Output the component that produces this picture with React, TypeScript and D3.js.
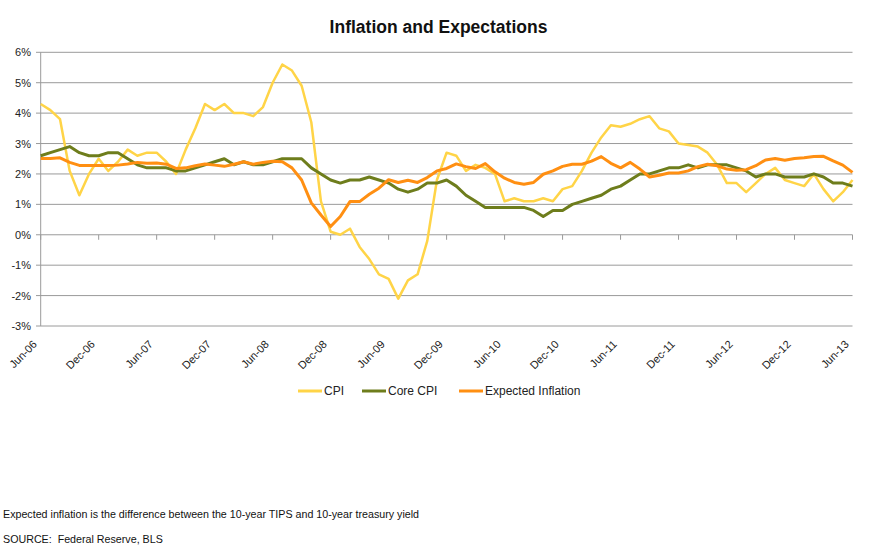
import React from "react";
import * as d3 from "d3";

const tickLabels = ["Jun-06","Dec-06","Jun-07","Dec-07","Jun-08","Dec-08","Jun-09","Dec-09","Jun-10","Dec-10","Jun-11","Dec-11","Jun-12","Dec-12","Jun-13"];

const cpi = [
  4.3, 4.1, 3.8, 2.1, 1.3, 2.0, 2.5,
  2.1, 2.4, 2.8, 2.6, 2.7, 2.7, 2.4, 2.0, 2.8, 3.5, 4.3, 4.1,
  4.3, 4.0, 4.0, 3.9, 4.2, 5.0, 5.6, 5.4, 4.9, 3.7, 1.1, 0.1,
  0.0, 0.2, -0.4, -0.8, -1.3, -1.45, -2.1, -1.5, -1.3, -0.2, 1.8, 2.7,
  2.6, 2.1, 2.3, 2.2, 2.0, 1.1, 1.2, 1.1, 1.1, 1.2, 1.1, 1.5,
  1.6, 2.1, 2.7, 3.2, 3.6, 3.55, 3.65, 3.8, 3.9, 3.5, 3.4, 3.0,
  2.95, 2.9, 2.7, 2.3, 1.7, 1.7, 1.4, 1.7, 2.0, 2.2, 1.8, 1.7,
  1.6, 2.0, 1.5, 1.1, 1.4, 1.8,
];

const coreCpi = [
  2.6, 2.7, 2.8, 2.9, 2.7, 2.6, 2.6,
  2.7, 2.7, 2.5, 2.3, 2.2, 2.2, 2.2, 2.1, 2.1, 2.2, 2.3, 2.4,
  2.5, 2.3, 2.4, 2.3, 2.3, 2.4, 2.5, 2.5, 2.5, 2.2, 2.0, 1.8,
  1.7, 1.8, 1.8, 1.9, 1.8, 1.7, 1.5, 1.4, 1.5, 1.7, 1.7, 1.8,
  1.6, 1.3, 1.1, 0.9, 0.9, 0.9, 0.9, 0.9, 0.8, 0.6, 0.8, 0.8,
  1.0, 1.1, 1.2, 1.3, 1.5, 1.6, 1.8, 2.0, 2.0, 2.1, 2.2, 2.2,
  2.3, 2.2, 2.3, 2.3, 2.3, 2.2, 2.1, 1.9, 2.0, 2.0, 1.9, 1.9,
  1.9, 2.0, 1.9, 1.7, 1.7, 1.6,
];

const expectedInflation = [
  2.51, 2.51, 2.53, 2.38, 2.28, 2.28, 2.28,
  2.28, 2.29, 2.33, 2.38, 2.35, 2.36, 2.32, 2.18, 2.2, 2.27, 2.33, 2.29,
  2.25, 2.32, 2.4, 2.32, 2.38, 2.42, 2.4, 2.2, 1.8, 1.05, 0.65, 0.27,
  0.6, 1.09, 1.09, 1.33, 1.53, 1.81, 1.72, 1.79, 1.72, 1.88, 2.1, 2.18,
  2.33, 2.24, 2.18, 2.34, 2.07, 1.86, 1.72, 1.66, 1.72, 1.99, 2.1, 2.25,
  2.32, 2.32, 2.42, 2.57, 2.35, 2.2, 2.38, 2.16, 1.9, 1.96, 2.03, 2.03,
  2.1, 2.24, 2.32, 2.27, 2.16, 2.12, 2.14, 2.27, 2.46, 2.51, 2.45, 2.51,
  2.53, 2.57, 2.58, 2.43, 2.29, 2.05,
];

const yTicks = [-3, -2, -1, 0, 1, 2, 3, 4, 5, 6];

const W = 887, H = 546;
const font = "'Liberation Sans', Arial, sans-serif";

export default function App() {
  const x = d3.scaleLinear().domain([0, cpi.length - 1]).range([40.7, 852.5]);
  const y = d3.scaleLinear().domain([-3, 6]).range([326, 52.3]);
  const line = d3.line<number>().x((_, i) => x(i)).y((d) => y(d));
  const series = [
    { name: "CPI", data: cpi, color: "#FFD447", w: 2.5 },
    { name: "Core CPI", data: coreCpi, color: "#6E7D1C", w: 3 },
    { name: "Expected Inflation", data: expectedInflation, color: "#FF8F12", w: 3 },
  ];
  const legendX = [298, 362, 459];
  return (
    <svg width={W} height={H} style={{ position: "absolute", left: 0, top: 0, background: "#fff" }} fontFamily={font}>
      <text x={438.5} y={33} textAnchor="middle" fontSize={17.5} fontWeight="bold" fill="#111">Inflation and Expectations</text>
      {yTicks.map((t) => (
        <g key={t}>
          <line x1={36} x2={852.5} y1={y(t)} y2={y(t)} stroke="#9a9a9a" strokeWidth={1} />
          <text x={31} y={y(t) + 4} textAnchor="end" fontSize={11} fill="#222">{t}%</text>
        </g>
      ))}
      <line x1={40.7} x2={40.7} y1={y(6)} y2={y(-3)} stroke="#9a9a9a" strokeWidth={1} />
      {tickLabels.map((lab, k) => {
        const xi = x(k * 6);
        return (
          <g key={lab}>
            <line x1={xi} x2={xi} y1={y(0)} y2={y(0) + 5} stroke="#9a9a9a" strokeWidth={1} />
            <text transform={`translate(${xi - 3},${345}) rotate(-45)`} textAnchor="end" fontSize={11} fill="#222">{lab}</text>
          </g>
        );
      })}
      {series.map((s) => (
        <path key={s.name} d={line(s.data) || ""} fill="none" stroke={s.color} strokeWidth={s.w} strokeLinejoin="round" />
      ))}
      {series.map((s, k) => (
        <g key={s.name}>
          <line x1={legendX[k]} x2={legendX[k] + 24} y1={391} y2={391} stroke={s.color} strokeWidth={3} />
          <text x={legendX[k] + 26} y={395} fontSize={12} fill="#222">{s.name}</text>
        </g>
      ))}
      <text x={3} y={518} fontSize={10.7} fill="#111">Expected inflation is the difference between the 10-year TIPS and 10-year treasury yield</text>
      <text x={3} y={543} fontSize={10.7} fill="#111" xmlSpace="preserve">SOURCE:  Federal Reserve, BLS</text>
    </svg>
  );
}
